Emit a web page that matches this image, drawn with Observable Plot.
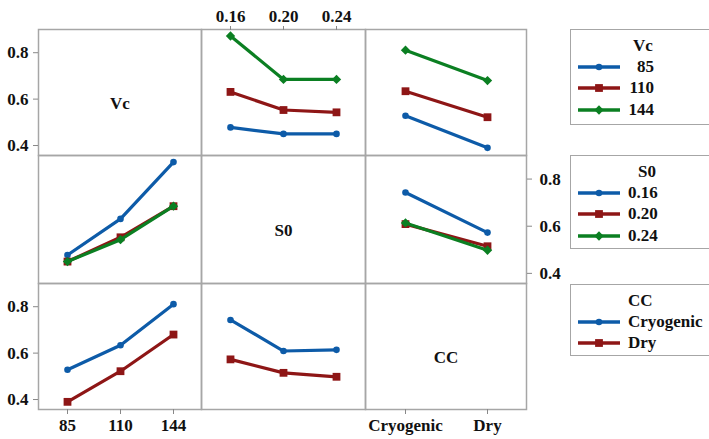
<!DOCTYPE html>
<html><head><meta charset="utf-8">
<script src="https://cdn.jsdelivr.net/npm/d3@7"></script>
<script src="https://cdn.jsdelivr.net/npm/@observablehq/plot@0.6"></script>
<style>
body{margin:0;background:#fff;}
#chart{position:relative;width:709px;height:439px;overflow:hidden;font-family:"Liberation Serif","Times New Roman",serif;font-weight:bold;color:#111;}
.panel{position:absolute;}
.panel svg text{font-family:"Liberation Serif","Times New Roman",serif !important;font-weight:bold !important;font-size:17px;}
.legend{position:absolute;border:1.5px solid #a6a6a6;background:#fff;box-sizing:border-box;}
.legend .row{position:absolute;left:0;height:22px;line-height:22px;font-size:17px;white-space:nowrap;}
.legend svg{position:absolute;left:6px;top:0;}
</style></head><body><div id="chart"></div>
<script>
// ---- data ----
const vcLevels = ["85", "110", "144"];
const s0Levels = ["0.16", "0.20", "0.24"];
const ccLevels = ["Cryogenic", "Dry"];
// mean response: rows = Vc level, cols = S0 level
const vcByS0 = [[0.478, 0.450, 0.450], [0.631, 0.553, 0.543], [0.872, 0.685, 0.685]];
// rows = Vc level, cols = CC level
const vcByCC = [[0.528, 0.390], [0.634, 0.522], [0.811, 0.680]];
// rows = S0 level, cols = CC level
const s0ByCC = [[0.743, 0.573], [0.609, 0.515], [0.614, 0.498]];
const yTicks = [0.4, 0.6, 0.8];
const yDomain = [0.357, 0.9];
const factorNames = ["Vc", "S0", "CC"];

// ---- style ----
const colors = ["#0d5ba8", "#8e1616", "#0b7f22"];
const symbols = ["circle", "square", "diamond2"];
const radii = [3.3, 4.4, 4.2];
const gridStroke = "#a6a6a6";

// tidy rows: trace level t, x level x, value y
function tidy(traceLevels, xLevels, matrix, transpose) {
  const out = [];
  traceLevels.forEach((t, i) => xLevels.forEach((x, j) => {
    out.push({t, ti: i, x, y: transpose ? matrix[j][i] : matrix[i][j]});
  }));
  return out;
}

const colX = [38, 201, 365, 526];
const rowY = [29, 155, 283, 409];
const chart = document.getElementById("chart");

function panel({row, col, xLevels, traceLevels, data, label, left, right, top, bottom}) {
  const w = colX[col + 1] - colX[col], h = rowY[row + 1] - rowY[row];
  const ml = left ? 45 : 2, mr = right ? 45 : 2, mt = top ? 30 : 2, mb = bottom ? 30 : 2;
  const marks = [];
  if (data) {
    traceLevels.forEach((t, i) => {
      const d = data.filter(r => r.t === t);
      marks.push(Plot.line(d, {x: "x", y: "y", stroke: colors[i], strokeWidth: 3.2}));
      marks.push(Plot.dot(d, {x: "x", y: "y", fill: colors[i], stroke: "none", symbol: symbols[i], r: radii[i]}));
    });
  }
  if (label) marks.push(Plot.text([label], {text: d => d, frameAnchor: "middle", dy: 11, fontSize: 17, fontWeight: "bold", fill: "#111"}));
  marks.push(Plot.frame({stroke: gridStroke, strokeWidth: 1.5}));
  if (left) marks.push(Plot.axisY(yTicks, {anchor: "left", tickFormat: ".1f", tickSize: 5, tickPadding: 5, stroke: "#888", label: null}));
  if (right) marks.push(Plot.axisY(yTicks, {anchor: "right", tickFormat: ".1f", tickSize: 5, tickPadding: 8, stroke: "#888", label: null}));
  if (top) marks.push(Plot.axisX({anchor: "top", tickSize: 4, tickPadding: 4, stroke: "#888", label: null}));
  if (bottom) marks.push(Plot.axisX({anchor: "bottom", tickSize: 5, tickPadding: 4, stroke: "#888", label: null}));
  const svg = Plot.plot({
    width: w + ml + mr, height: h + mt + mb,
    marginLeft: ml, marginRight: mr, marginTop: mt, marginBottom: mb,
    style: {fontWeight: "bold", fontSize: "17px", color: "#111", background: "transparent", overflow: "visible"},
    x: {type: "point", domain: xLevels || ["a"], padding: xLevels && xLevels.length === 2 ? 0.47 : 0.52, label: null, axis: (top || bottom) ? undefined : null},
    y: {domain: yDomain, label: null, axis: (left || right) ? undefined : null},
    marks
  });
  const div = document.createElement("div");
  div.className = "panel";
  div.style.left = (colX[col] - ml) + "px";
  div.style.top = (rowY[row] - mt) + "px";
  div.appendChild(svg);
  chart.appendChild(div);
}

// row 1: traces Vc
panel({row: 0, col: 0, label: factorNames[0], left: true, xLevels: vcLevels});
panel({row: 0, col: 1, xLevels: s0Levels, traceLevels: vcLevels, data: tidy(vcLevels, s0Levels, vcByS0, false), top: true});
panel({row: 0, col: 2, xLevels: ccLevels, traceLevels: vcLevels, data: tidy(vcLevels, ccLevels, vcByCC, false)});
// row 2: traces S0
panel({row: 1, col: 0, xLevels: vcLevels, traceLevels: s0Levels, data: tidy(s0Levels, vcLevels, vcByS0, true)});
panel({row: 1, col: 1, label: factorNames[1], xLevels: s0Levels});
panel({row: 1, col: 2, xLevels: ccLevels, traceLevels: s0Levels, data: tidy(s0Levels, ccLevels, s0ByCC, false), right: true});
// row 3: traces CC
panel({row: 2, col: 0, xLevels: vcLevels, traceLevels: ccLevels, data: tidy(ccLevels, vcLevels, vcByCC, true), left: true, bottom: true});
panel({row: 2, col: 1, xLevels: s0Levels, traceLevels: ccLevels, data: tidy(ccLevels, s0Levels, s0ByCC, true)});
panel({row: 2, col: 2, label: factorNames[2], bottom: true, xLevels: ccLevels});

// ---- legends ----
function legend(top, height, title, titleLeft, levels, alignRight) {
  const box = document.createElement("div");
  box.className = "legend";
  Object.assign(box.style, {left: "570px", top: top + "px", width: "160px", height: height + "px"});
  const t = document.createElement("div");
  t.className = "row"; t.textContent = title;
  Object.assign(t.style, {left: titleLeft + "px", top: (16 - 11) + "px"});
  box.appendChild(t);
  levels.forEach((lv, i) => {
    const r = document.createElement("div");
    r.className = "row";
    r.style.top = (37 + 21.3 * i - 11) + "px";
    r.style.width = "160px";
    const sw = d3.create("svg").attr("width", 44).attr("height", 22);
    sw.append("line").attr("x1", 1).attr("x2", 43).attr("y1", 11).attr("y2", 11)
      .attr("stroke", colors[i]).attr("stroke-width", 3.6);
    const sym = {circle: d3.symbolCircle, square: d3.symbolSquare, diamond2: d3.symbolDiamond2}[symbols[i]];
    sw.append("path").attr("transform", "translate(22,11)")
      .attr("d", d3.symbol(sym, Math.PI * radii[i] * radii[i])()).attr("fill", colors[i]);
    r.appendChild(sw.node());
    const s = document.createElement("span");
    s.textContent = lv;
    Object.assign(s.style, {position: "absolute", left: "57px", width: alignRight ? "26px" : "auto", textAlign: alignRight ? "right" : "left"});
    r.appendChild(s);
    box.appendChild(r);
  });
  chart.appendChild(box);
}
legend(29, 96, factorNames[0], 62, vcLevels, true);
legend(155, 94, factorNames[1], 67, s0Levels, false);
legend(284, 72, factorNames[2], 57, ccLevels, false);
</script></body></html>
